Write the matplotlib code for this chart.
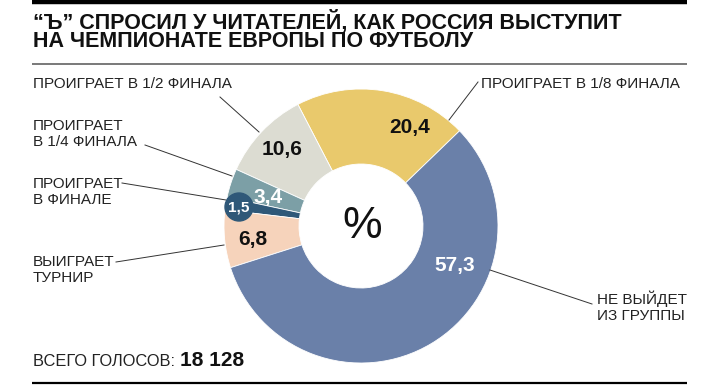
import matplotlib
matplotlib.use("Agg")
import matplotlib.pyplot as plt
from matplotlib.patches import Circle

plt.rcParams['font.family'] = ['Liberation Sans', 'DejaVu Sans']

# data
values = [20.4, 10.6, 3.4, 1.5, 6.8, 57.3]
value_labels = ["20,4", "10,6", "3,4", "1,5", "6,8", "57,3"]
categories = ["ПРОИГРАЕТ В 1/8 ФИНАЛА", "ПРОИГРАЕТ В 1/2 ФИНАЛА",
              "ПРОИГРАЕТ\nВ 1/4 ФИНАЛА", "ПРОИГРАЕТ\nВ ФИНАЛЕ",
              "ВЫИГРАЕТ\nТУРНИР", "НЕ ВЫЙДЕТ\nИЗ ГРУППЫ"]
colors = ["#E9C96C", "#DCDCD2", "#7C9FA6", "#2F5878", "#F6D3BB", "#6A80A9"]
title_lines = ["“Ъ” СПРОСИЛ У ЧИТАТЕЛЕЙ, КАК РОССИЯ ВЫСТУПИТ",
               "НА ЧЕМПИОНАТЕ ЕВРОПЫ ПО ФУТБОЛУ"]
total_label = "ВСЕГО ГОЛОСОВ: "
total_value = "18 128"

W, H = 720, 387
fig = plt.figure(figsize=(7.2, 3.87), dpi=100)
ax = fig.add_axes([0, 0, 1, 1])

def Y(y):
    return H - y

cx, cy, R, r_in = 361, Y(226), 137, 62
wedges, _ = ax.pie(values, colors=colors, startangle=44, counterclock=True,
                   radius=R, center=(cx, cy), frame=True,
                   wedgeprops=dict(width=R - r_in, edgecolor="white", linewidth=0.6))
ax.set_xlim(0, W)
ax.set_ylim(0, H)
ax.set_aspect("auto")
ax.axis("off")

# rules
ax.plot([32, 687], [Y(2), Y(2)], color="black", lw=3.2, solid_capstyle="butt")
ax.plot([32, 687], [Y(64), Y(64)], color="#555555", lw=1.1, solid_capstyle="butt")
ax.plot([32, 687], [Y(383), Y(383)], color="black", lw=1.6, solid_capstyle="butt")

ax.text(33, Y(28), title_lines[0], fontsize=15.5, fontweight="bold",
        va="baseline", color="#111111")
ax.text(33, Y(47), title_lines[1], fontsize=15.5, fontweight="bold",
        va="baseline", color="#111111")

# value labels
val_pos = [(410, 127), (282, 150), (268, 197), (239, 207), (253, 240), (455, 265)]
val_col = ["#111111", "#111111", "white", "white", "#111111", "white"]
for i, (lab, (x, y)) in enumerate(zip(value_labels, val_pos)):
    if i == 3:
        ax.add_patch(Circle((x, Y(y)), 14, color=colors[3], zorder=3))
        ax.text(x, Y(y), lab, fontsize=11, fontweight="bold", color="white",
                ha="center", va="center", zorder=4)
    else:
        ax.text(x, Y(y), lab, fontsize=15, fontweight="bold", color=val_col[i],
                ha="center", va="center")

ax.text(cx + 1, cy, "%", fontsize=32, ha="center", va="center", color="#111111")

# category labels and leaders
cat_pos = [(481, 84), (33, 84), (33, 134), (33, 192), (33, 270), (597, 307)]
leaders = [[(478, 82), (449, 120)], [(220, 97), (259, 132)],
           [(145, 145), (232, 176)], [(122, 183), (226, 200)],
           [(116, 262), (224, 245)], [(490, 270), (592, 304)]]
for lab, (x, y), ln in zip(categories, cat_pos, leaders):
    ax.text(x, Y(y), lab, fontsize=11, color="#222222", ha="left", va="center",
            linespacing=1.2)
    ax.plot([ln[0][0], ln[1][0]], [Y(ln[0][1]), Y(ln[1][1])],
            color="#333333", lw=0.7)

t = ax.text(33, Y(366), total_label, fontsize=11.8, color="#222222", va="baseline")
fig.canvas.draw()
bb = t.get_window_extent()
ax.text(33 + bb.width, Y(366), total_value, fontsize=15, fontweight="bold",
        color="#111111", va="baseline")

fig.savefig("out.png", dpi=100)
